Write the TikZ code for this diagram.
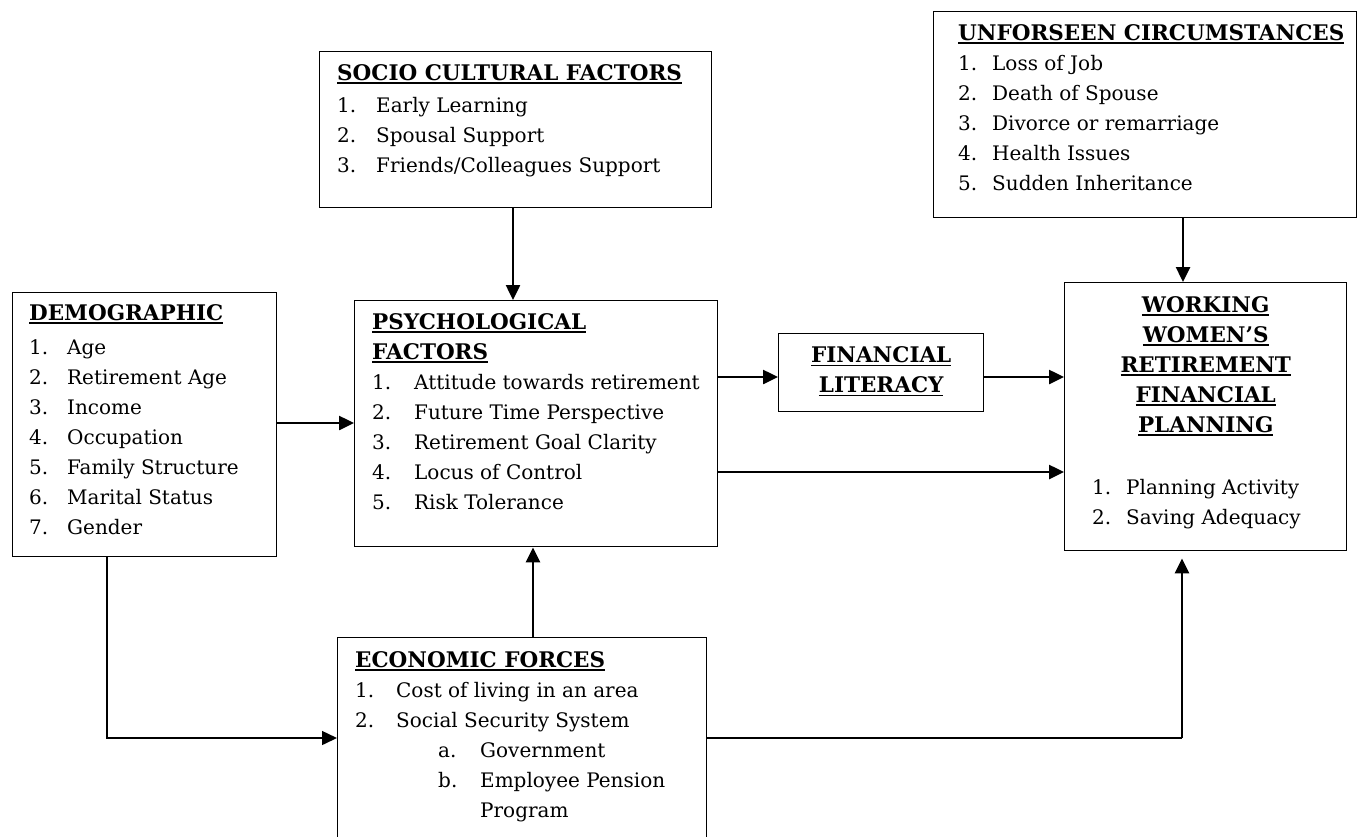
\documentclass[tikz,border=0pt]{standalone}
\usepackage{fontspec}
\setmainfont{DejaVu Serif}
\usetikzlibrary{arrows.meta,positioning}

% underlined bold heading, numbered item
\newcommand{\hd}[1]{\setbox0\hbox{\fontsize{21.5}{30}\selectfont\bfseries #1}\rlap{\rule[-3.5pt]{\wd0}{1.8pt}}\box0}
\newcommand{\itm}[3][40pt]{\makebox[#1][l]{#2}#3}

\begin{document}
\begin{tikzpicture}[
x=1pt, y=-1pt,
box/.style={draw, line width=1.4pt, inner sep=0pt, anchor=north west},
txt/.style={inner sep=0pt, anchor=north west, align=left,
            font=\fontsize{20}{30}\selectfont},
arr/.style={line width=2.5pt, -{Triangle[length=15pt,width=14pt]}},
link/.style={line width=1.5pt}
]
\useasboundingbox (0,0) rectangle (1357,836);

% boxes
\node[box, minimum width=392pt, minimum height=156pt] (socio) at (319,51) {};
\node[box, minimum width=423pt, minimum height=206pt] (unf) at (933,11) {};
\node[box, minimum width=264pt, minimum height=264pt] (demo) at (12,292) {};
\node[box, minimum width=363pt, minimum height=246pt] (psych) at (354,300) {};
\node[box, minimum width=205pt, minimum height=78pt] (finlit) at (778,333) {};
\node[box, minimum width=282pt, minimum height=268pt] (working) at (1064,282) {};
\node[box, minimum width=369pt, minimum height=210pt] (econ) at (337,637) {};

% texts
\node[txt] (socio-t) at ([xshift=18pt,yshift=-13pt]socio.north west) {%
\hd{SOCIO CULTURAL FACTORS}\\[2pt]
\itm[39pt]{1.}{Early Learning}\\
\itm[39pt]{2.}{Spousal Support}\\
\itm[39pt]{3.}{Friends/Colleagues Support}};

\node[txt] (unf-t) at ([xshift=25pt,yshift=-13pt]unf.north west) {%
\hd{UNFORSEEN CIRCUMSTANCES}\\
\itm[34pt]{1.}{Loss of Job}\\
\itm[34pt]{2.}{Death of Spouse}\\
\itm[34pt]{3.}{Divorce or remarriage}\\
\itm[34pt]{4.}{Health Issues}\\
\itm[34pt]{5.}{Sudden Inheritance}};

\node[txt] (demo-t) at ([xshift=17pt,yshift=-12pt]demo.north west) {%
\hd{DEMOGRAPHIC}\\[4pt]
\itm[38pt]{1.}{Age}\\
\itm[38pt]{2.}{Retirement Age}\\
\itm[38pt]{3.}{Income}\\
\itm[38pt]{4.}{Occupation}\\
\itm[38pt]{5.}{Family Structure}\\
\itm[38pt]{6.}{Marital Status}\\
\itm[38pt]{7.}{Gender}};

\node[txt] (psych-t) at ([xshift=18pt,yshift=-13pt]psych.north west) {%
\hd{PSYCHOLOGICAL}\\
\hd{FACTORS}\\
\itm[42pt]{1.}{Attitude towards retirement}\\
\itm[42pt]{2.}{Future Time Perspective}\\
\itm[42pt]{3.}{Retirement Goal Clarity}\\
\itm[42pt]{4.}{Locus of Control}\\
\itm[42pt]{5.}{Risk Tolerance}};

\node[txt, anchor=center, align=center] (finlit-t) at ([yshift=1pt]finlit.center) {%
\hd{FINANCIAL}\\
\hd{LITERACY}};

\node[txt, anchor=north, align=center] (working-h) at ([yshift=-14pt]working.north) {%
\hd{WORKING}\\
\hd{WOMEN’S}\\
\hd{RETIREMENT}\\
\hd{FINANCIAL}\\
\hd{PLANNING}};
\node[txt] (working-t) at ([xshift=28pt,yshift=-197pt]working.north west) {%
\itm[34pt]{1.}{Planning Activity}\\
\itm[34pt]{2.}{Saving Adequacy}};

\node[txt] (econ-t) at ([xshift=18pt,yshift=-14pt]econ.north west) {%
\hd{ECONOMIC FORCES}\\
\itm[41pt]{1.}{Cost of living in an area}\\
\itm[41pt]{2.}{Social Security System}\\
\hspace*{83pt}\itm[42pt]{a.}{Government}\\
\hspace*{83pt}\itm[42pt]{b.}{Employee Pension}\\
\hspace*{125pt}Program};

% connectors
\coordinate (s1) at ([xshift=194pt]socio.south west);
\draw[arr] (s1) -- (s1 |- psych.north);

\coordinate (u1) at ([xshift=250pt]unf.south west);
\draw[arr] (u1) -- (u1 |- working.north);

\coordinate (d0) at ([yshift=-131pt]demo.north east);
\draw[arr] (d0) -- (d0 -| psych.west);

\coordinate (p1) at ([yshift=-77pt]psych.north east);
\draw[arr] (p1) -- (p1 -| finlit.west);
\coordinate (f1) at (p1 -| finlit.east);
\draw[arr] (f1) -- (f1 -| working.west);

\coordinate (p2) at ([yshift=-172pt]psych.north east);
\draw[arr] (p2) -- (p2 -| working.west);

\coordinate (e1) at ([xshift=196pt]econ.north west);
\draw[arr] (e1) -- (e1 |- psych.south);

\coordinate (d1) at ([xshift=95pt]demo.south west);
\coordinate (e2) at ([yshift=-101pt]econ.north west);
\draw[link, -{Triangle[length=15pt,width=14pt]}] (d1) |- (e2);

\coordinate (e3) at (e2 -| econ.east);
\coordinate (w1) at ([xshift=118pt,yshift=-7pt]working.south west);
\draw[link] (e3) -- (e3 -| w1);
\draw[arr] (e3 -| w1) -- (w1);

\end{tikzpicture}
\end{document}
